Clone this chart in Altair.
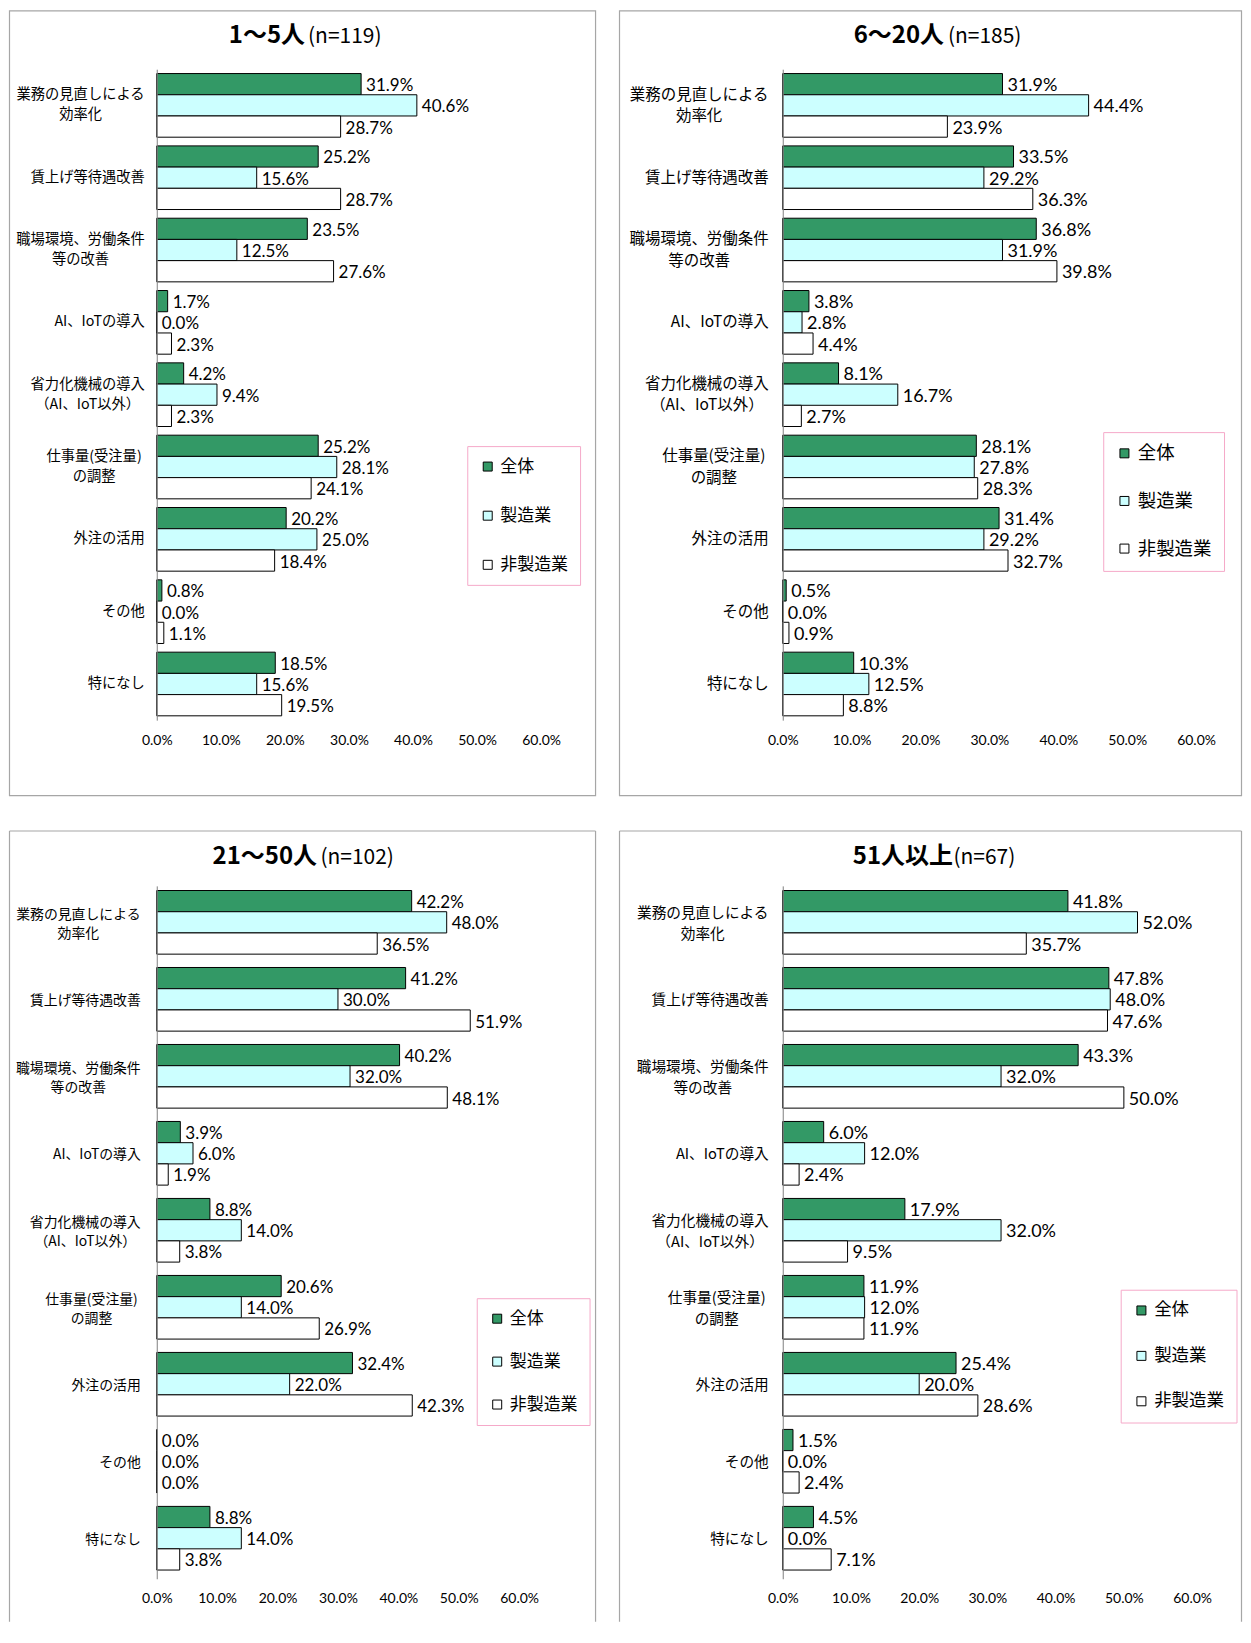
import unicodedata
import altair as alt
import pandas as pd

# ---------------- data ----------------
categories = [
    "業務の見直しによる\n効率化",
    "賃上げ等待遇改善",
    "職場環境、労働条件\n等の改善",
    "AI、IoTの導入",
    "省力化機械の導入\n（AI、IoT以外）",
    "仕事量(受注量)\nの調整",
    "外注の活用",
    "その他",
    "特になし",
]
series = ["全体", "製造業", "非製造業"]
series_colors = ["#339966", "#ccffff", "#ffffff"]
x_ticks = [0, 10, 20, 30, 40, 50, 60]

titles_bold = ["1～5人", "6～20人", "21～50人", "51人以上"]
titles_n = ["(n=119)", "(n=185)", "(n=102)", "(n=67)"]

p1_all = [31.9, 25.2, 23.5, 1.7, 4.2, 25.2, 20.2, 0.8, 18.5]
p1_mfg = [40.6, 15.6, 12.5, 0.0, 9.4, 28.1, 25.0, 0.0, 15.6]
p1_non = [28.7, 28.7, 27.6, 2.3, 2.3, 24.1, 18.4, 1.1, 19.5]

p2_all = [31.9, 33.5, 36.8, 3.8, 8.1, 28.1, 31.4, 0.5, 10.3]
p2_mfg = [44.4, 29.2, 31.9, 2.8, 16.7, 27.8, 29.2, 0.0, 12.5]
p2_non = [23.9, 36.3, 39.8, 4.4, 2.7, 28.3, 32.7, 0.9, 8.8]

p3_all = [42.2, 41.2, 40.2, 3.9, 8.8, 20.6, 32.4, 0.0, 8.8]
p3_mfg = [48.0, 30.0, 32.0, 6.0, 14.0, 14.0, 22.0, 0.0, 14.0]
p3_non = [36.5, 51.9, 48.1, 1.9, 3.8, 26.9, 42.3, 0.0, 3.8]

p4_all = [41.8, 47.8, 43.3, 6.0, 17.9, 11.9, 25.4, 1.5, 4.5]
p4_mfg = [52.0, 48.0, 32.0, 12.0, 32.0, 12.0, 20.0, 0.0, 0.0]
p4_non = [35.7, 47.6, 50.0, 2.4, 9.5, 11.9, 28.6, 2.4, 7.1]

# ---------------- layout / style (page pixel coordinates) ----------------
FONT_JP = "Noto Sans CJK JP"
FONT_NUM = "Lato"
FRAME_COLOR = "#a6a6a6"

layouts = [
    dict(ox=155.5, oy=66.5, w=385, h=652, frame=(8, 595, 8, 794), closed=True,
         legend=(466.5, 444), lpad=12, lrow=31.2, lfs=17, cfs=14.3, gap=12, dfs=17,
         tbe=304, tns=307, ty=33.5),
    dict(ox=780.5, oy=66.5, w=414, h=652, frame=(617, 1240, 8, 794), closed=True,
         legend=(1101.5, 430), lpad=12, lrow=28.7, lfs=18.5, cfs=15.5, gap=14, dfs=18,
         tbe=942, tns=946, ty=33.5),
    dict(ox=155.5, oy=883, w=363, h=694, frame=(8, 595, 828, 1620), closed=False,
         legend=(476, 1296), lpad=12, lrow=25, lfs=17, cfs=13.9, gap=16, dfs=17,
         tbe=316, tns=319.5, ty=854),
    dict(ox=780.5, oy=883, w=410, h=694, frame=(617, 1240, 828, 1620), closed=False,
         legend=(1119, 1287.5), lpad=12, lrow=26.5, lfs=17.5, cfs=14.7, gap=14, dfs=18,
         tbe=951, tns=951.5, ty=854),
]


def text_width(s, fs):
    return sum(fs if unicodedata.east_asian_width(c) in "WF" else 0.55 * fs for c in s)


one = pd.DataFrame({"k": [0]})


def make_panel(i, values, lay):
    w, h, ox, oy = lay["w"], lay["h"], lay["ox"], lay["oy"]
    rows = []
    for s, vals in zip(series, values):
        for c, v in zip(categories, vals):
            rows.append({"cat": c, "series": s, "value": v, "label": f"{v:.1f}%"})
    df = pd.DataFrame(rows)

    y = alt.Y(
        "cat:N", sort=categories,
        scale=alt.Scale(domain=categories, paddingInner=0.12, paddingOuter=0.06),
        axis=alt.Axis(labels=False, ticks=False, title=None, grid=False,
                      domainColor="#808080", domainWidth=1, zindex=1),
    )
    yoff = alt.YOffset("series:N", sort=series,
                       scale=alt.Scale(domain=series, paddingInner=0, paddingOuter=0))
    x = alt.X(
        "value:Q",
        scale=alt.Scale(domain=[0, 60], nice=False, zero=True),
        axis=alt.Axis(values=x_ticks, labelExpr="format(datum.value, '.1f') + '%'",
                      domain=False, ticks=False, grid=False, title=None,
                      labelFont=FONT_NUM, labelFontSize=14, labelPadding=13,
                      labelColor="black", labelFlush=False, labelOverlap=False,
                      zindex=1),
    )
    lgx, lgy = lay["legend"]
    color = alt.Color(
        "series:N", sort=series,
        scale=alt.Scale(domain=series, range=series_colors),
        legend=alt.Legend(
            orient="none", legendX=lgx - ox, legendY=lgy - oy, direction="vertical",
            title=None, padding=lay["lpad"], rowPadding=lay["lrow"],
            symbolType="square", symbolSize=81, symbolStrokeColor="black",
            symbolStrokeWidth=1, labelFont=FONT_JP, labelFontSize=lay["lfs"],
            labelColor="black", labelOffset=4, strokeColor="#f5a9c9",
            fillColor="white",
        ),
    )

    layers = []
    fx1, fx2, fy1, fy2 = lay["frame"]
    fx1, fx2, fy1, fy2 = fx1 - ox, fx2 - ox, fy1 - oy, fy2 - oy
    if lay["closed"]:
        layers.append(
            alt.Chart(one).mark_rect(fill="white", fillOpacity=0, stroke=FRAME_COLOR,
                                     strokeWidth=1.2)
            .encode(x=alt.value(fx1), x2=alt.value(fx2), y=alt.value(fy1), y2=alt.value(fy2))
        )
    else:
        rule = alt.Chart(one).mark_rule(color=FRAME_COLOR, strokeWidth=1.2)
        layers.append(rule.encode(x=alt.value(fx1), x2=alt.value(fx2), y=alt.value(fy1)))
        layers.append(rule.encode(x=alt.value(fx1), y=alt.value(fy1), y2=alt.value(fy2)))
        layers.append(rule.encode(x=alt.value(fx2), y=alt.value(fy1), y2=alt.value(fy2)))

    bars = alt.Chart(df).mark_bar(stroke="black", strokeWidth=1).encode(
        x=x, y=y, yOffset=yoff, color=color
    )
    vlabels = alt.Chart(df).mark_text(
        align="left", baseline="middle", dx=5, dy=2, font=FONT_NUM,
        fontSize=lay["dfs"], color="black",
    ).encode(x=x, y=y, yOffset=yoff, text="label:N")
    layers += [bars, vlabels]

    cfs = lay["cfs"]
    gap = lay["gap"]
    lh = cfs * 1.4
    single = [c for c in categories if "\n" not in c]
    layers.append(
        alt.Chart(pd.DataFrame({"cat": single})).mark_text(
            align="right", baseline="middle", font=FONT_JP, fontSize=cfs, color="black"
        ).encode(y=y, x=alt.value(-gap), text="cat:N")
    )
    for c in categories:
        if "\n" not in c:
            continue
        lines = c.split("\n")
        wmax = max(text_width(line, cfs) for line in lines)
        layers.append(
            alt.Chart(pd.DataFrame({"cat": [c]}))
            .transform_calculate(lines="split(datum.cat, '\\n')")
            .mark_text(align="center", baseline="middle", font=FONT_JP, fontSize=cfs,
                       lineHeight=lh, dy=-(len(lines) - 1) * lh / 2, color="black")
            .encode(y=y, x=alt.value(-gap - wmax / 2), text="lines:N")
        )

    layers.append(
        alt.Chart(one).mark_text(align="right", baseline="middle", font=FONT_JP,
                                 fontWeight="bold", fontSize=24, color="black")
        .encode(x=alt.value(lay["tbe"] - ox), y=alt.value(lay["ty"] - oy),
                text=alt.value(titles_bold[i]))
    )
    layers.append(
        alt.Chart(one).mark_text(align="left", baseline="middle", font=FONT_JP,
                                 fontSize=21, color="black")
        .encode(x=alt.value(lay["tns"] - ox), y=alt.value(lay["ty"] - oy + 1),
                text=alt.value(titles_n[i]))
    )

    return alt.layer(*layers).properties(width=w, height=h)


panels = [
    make_panel(0, [p1_all, p1_mfg, p1_non], layouts[0]),
    make_panel(1, [p2_all, p2_mfg, p2_non], layouts[1]),
    make_panel(2, [p3_all, p3_mfg, p3_non], layouts[2]),
    make_panel(3, [p4_all, p4_mfg, p4_non], layouts[3]),
]

row1 = alt.hconcat(panels[0], panels[1], spacing=21).resolve_scale(
    color="independent").resolve_legend(color="independent")
row2 = alt.hconcat(panels[2], panels[3], spacing=21).resolve_scale(
    color="independent").resolve_legend(color="independent")

chart = (
    alt.vconcat(row1, row2, spacing=33)
    .resolve_scale(color="independent")
    .resolve_legend(color="independent")
    .properties(padding=0, background="white")
    .configure_view(stroke=None)
)

chart.save("out.html", embed_options={"renderer": "svg", "actions": False})
